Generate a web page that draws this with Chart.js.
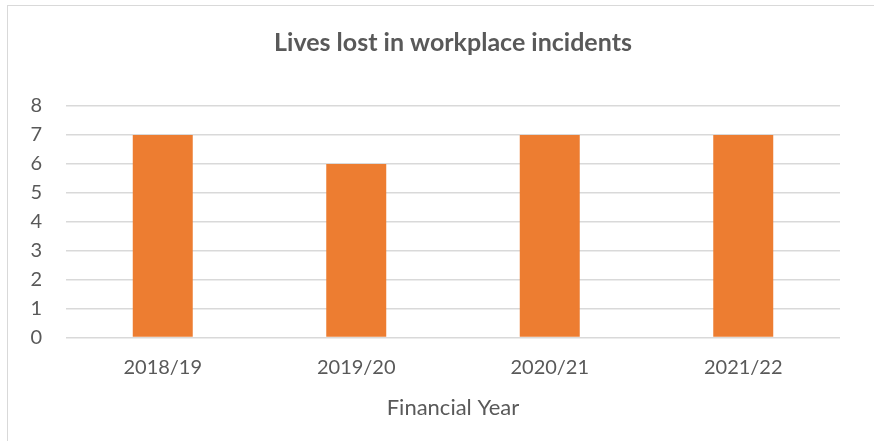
<!DOCTYPE html>
<html>
<head>
<meta charset="utf-8">
<script src="https://cdn.jsdelivr.net/npm/chart.js@4.4.1/dist/chart.umd.min.js"></script>
<style>
  html, body { margin: 0; padding: 0; background: #ffffff; }
  #wrap { position: relative; width: 874px; height: 441px; overflow: hidden; }
  #frame { position: absolute; left: 7px; top: 5px; width: 900px; height: 500px; border: 1.5px solid #d9d9d9; box-sizing: border-box; pointer-events: none; }
  canvas { position: absolute; left: 0; top: 0; }
</style>
</head>
<body>
<div id="wrap">
  <canvas id="chart" width="874" height="441"></canvas>
  <div id="frame"></div>
</div>
<script>
// chart data
const years = ['2018/19', '2019/20', '2020/21', '2021/22']
const livesLost = [7, 6, 7, 7]
const yTicks = [0, 1, 2, 3, 4, 5, 6, 7, 8]

const textColor = '#595959'
const gridColor = '#d9d9d9'
const fontFamily = 'Lato, "Open Sans", "Liberation Sans", sans-serif'

const ctx = document.getElementById('chart').getContext('2d')
new Chart(ctx, {
  type: 'bar',
  data: {
    labels: years,
    datasets: [{
      data: livesLost,
      backgroundColor: '#ed7d31',
      borderWidth: 0,
      barPercentage: 0.31,
      categoryPercentage: 1,
    }],
  },
  options: {
    responsive: false,
    animation: false,
    layout: { padding: { left: 0, right: 34, top: 0, bottom: 20 } },
    plugins: {
      legend: { display: false },
      tooltip: { enabled: false },
      title: {
        display: true,
        fullSize: false, // centre over the plot area, not the whole canvas
        text: 'Lives lost in workplace incidents',
        color: textColor,
        font: { family: fontFamily, size: 25, weight: 'bold', lineHeight: 1.2 },
        padding: { top: 28, bottom: 48 },
      },
    },
    scales: {
      x: {
        grid: { display: false, drawTicks: false },
        border: { display: false },
        ticks: {
          color: textColor,
          font: { family: fontFamily, size: 20 },
          padding: 18,
        },
        title: {
          display: true,
          text: 'Financial Year',
          color: textColor,
          font: { family: fontFamily, size: 22 },
          padding: { top: -3, bottom: 0 },
        },
      },
      y: {
        min: yTicks[0],
        max: yTicks[yTicks.length - 1],
        afterBuildTicks: (scale) => { scale.ticks = yTicks.map((v) => ({ value: v })) },
        afterFit: (scale) => { scale.width = 66 },
        grid: { color: gridColor, lineWidth: 1.5, drawTicks: false },
        border: { display: false },
        ticks: {
          color: textColor,
          font: { family: fontFamily, size: 20 },
          padding: 24,
          autoSkip: false,
        },
      },
    },
  },
})
</script>
</body>
</html>
